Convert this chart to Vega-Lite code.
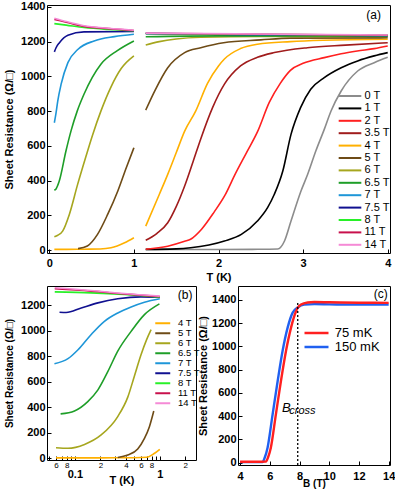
{
  "$schema": "https://vega.github.io/schema/vega-lite/v6.json",
  "autosize": {"type": "pad"},
  "padding": {"left": 3, "top": 0, "right": 0, "bottom": 0},
  "background": "white",
  "config": {
    "font": "Liberation Sans",
    "view": {"stroke": "#000", "strokeWidth": 1},
    "axis": {"domain": false, "grid": false, "tickColor": "#000", "tickSize": -4, "tickWidth": 1, "tickCount": 30, "labelColor": "#000", "labelFont": "Liberation Sans", "labelFontSize": 11, "labelFontWeight": "bold", "titleColor": "#000", "titleFont": "Liberation Sans", "titleFontSize": 11, "titleFontWeight": "bold", "labelPadding": 6, "titlePadding": 4, "labelFlush": false, "labelOverlap": false},
    "legend": {"labelFont": "Liberation Sans", "labelColor": "#000", "padding": 0, "titlePadding": 0}
  },
  "datasets": {
    "aLow": [
      {"B":"4 T","T":0.06,"R":4},{"B":"4 T","T":0.2,"R":4},{"B":"4 T","T":0.4,"R":5},{"B":"4 T","T":0.6,"R":6},{"B":"4 T","T":0.73,"R":13},{"B":"4 T","T":0.89,"R":42},{"B":"4 T","T":1.0,"R":71},
      {"B":"5 T","T":0.34,"R":8},{"B":"5 T","T":0.45,"R":23},{"B":"5 T","T":0.57,"R":90},{"B":"5 T","T":0.69,"R":205},{"B":"5 T","T":0.81,"R":340},{"B":"5 T","T":0.91,"R":474},{"B":"5 T","T":1.0,"R":589},
      {"B":"6 T","T":0.06,"R":77},{"B":"6 T","T":0.1,"R":85},{"B":"6 T","T":0.158,"R":109},{"B":"6 T","T":0.237,"R":205},{"B":"6 T","T":0.335,"R":378},{"B":"6 T","T":0.434,"R":540},{"B":"6 T","T":0.51,"R":660},{"B":"6 T","T":0.61,"R":800},{"B":"6 T","T":0.73,"R":940},{"B":"6 T","T":0.85,"R":1045},{"B":"6 T","T":1.0,"R":1118},
      {"B":"6.5 T","T":0.06,"R":344},{"B":"6.5 T","T":0.08,"R":352},{"B":"6.5 T","T":0.118,"R":397},{"B":"6.5 T","T":0.197,"R":570},{"B":"6.5 T","T":0.257,"R":686},{"B":"6.5 T","T":0.33,"R":800},{"B":"6.5 T","T":0.41,"R":897},{"B":"6.5 T","T":0.61,"R":1070},{"B":"6.5 T","T":0.8,"R":1147},{"B":"6.5 T","T":1.0,"R":1204},
      {"B":"7 T","T":0.06,"R":733},{"B":"7 T","T":0.08,"R":790},{"B":"7 T","T":0.1,"R":858},{"B":"7 T","T":0.14,"R":955},{"B":"7 T","T":0.22,"R":1079},{"B":"7 T","T":0.34,"R":1156},{"B":"7 T","T":0.53,"R":1204},{"B":"7 T","T":0.77,"R":1229},{"B":"7 T","T":1.0,"R":1243},
      {"B":"7.5 T","T":0.06,"R":1141},{"B":"7.5 T","T":0.08,"R":1165},{"B":"7.5 T","T":0.12,"R":1194},{"B":"7.5 T","T":0.22,"R":1237},{"B":"7.5 T","T":0.41,"R":1256},{"B":"7.5 T","T":1.0,"R":1258},
      {"B":"8 T","T":0.06,"R":1304},{"B":"8 T","T":0.2,"R":1295},{"B":"8 T","T":0.41,"R":1281},{"B":"8 T","T":0.7,"R":1270},{"B":"8 T","T":1.0,"R":1263},
      {"B":"11 T","T":0.06,"R":1328},{"B":"11 T","T":0.2,"R":1312},{"B":"11 T","T":0.41,"R":1288},{"B":"11 T","T":0.7,"R":1275},{"B":"11 T","T":1.0,"R":1264},
      {"B":"14 T","T":0.06,"R":1335},{"B":"14 T","T":0.2,"R":1316},{"B":"14 T","T":0.41,"R":1292},{"B":"14 T","T":0.7,"R":1277},{"B":"14 T","T":1.0,"R":1266}
    ],
    "aHigh": [
      {"B":"0 T","T":1.14,"R":3},{"B":"0 T","T":1.6,"R":3},{"B":"0 T","T":2.0,"R":3},{"B":"0 T","T":2.4,"R":4},{"B":"0 T","T":2.7,"R":6},{"B":"0 T","T":2.78,"R":52},{"B":"0 T","T":2.857,"R":167},{"B":"0 T","T":2.975,"R":340},{"B":"0 T","T":3.054,"R":436},{"B":"0 T","T":3.15,"R":570},{"B":"0 T","T":3.25,"R":695},{"B":"0 T","T":3.33,"R":801},{"B":"0 T","T":3.45,"R":916},{"B":"0 T","T":3.645,"R":1031},{"B":"0 T","T":3.84,"R":1079},{"B":"0 T","T":4.0,"R":1110},
      {"B":"1 T","T":1.14,"R":4},{"B":"1 T","T":1.5,"R":7},{"B":"1 T","T":1.67,"R":13},{"B":"1 T","T":2.07,"R":52},{"B":"1 T","T":2.27,"R":90},{"B":"1 T","T":2.46,"R":167},{"B":"1 T","T":2.58,"R":244},{"B":"1 T","T":2.66,"R":321},{"B":"1 T","T":2.76,"R":455},{"B":"1 T","T":2.857,"R":666},{"B":"1 T","T":2.97,"R":820},{"B":"1 T","T":3.09,"R":926},{"B":"1 T","T":3.25,"R":993},{"B":"1 T","T":3.45,"R":1050},{"B":"1 T","T":3.645,"R":1089},{"B":"1 T","T":3.84,"R":1118},{"B":"1 T","T":4.0,"R":1137},
      {"B":"2 T","T":1.14,"R":5},{"B":"2 T","T":1.4,"R":22},{"B":"2 T","T":1.6,"R":50},{"B":"2 T","T":1.67,"R":62},{"B":"2 T","T":1.8,"R":120},{"B":"2 T","T":1.95,"R":220},{"B":"2 T","T":2.07,"R":310},{"B":"2 T","T":2.2,"R":440},{"B":"2 T","T":2.33,"R":560},{"B":"2 T","T":2.46,"R":680},{"B":"2 T","T":2.6,"R":850},{"B":"2 T","T":2.73,"R":960},{"B":"2 T","T":2.85,"R":1035},{"B":"2 T","T":3.0,"R":1075},{"B":"2 T","T":3.25,"R":1108},{"B":"2 T","T":3.45,"R":1130},{"B":"2 T","T":3.64,"R":1146},{"B":"2 T","T":3.84,"R":1160},{"B":"2 T","T":4.0,"R":1175},
      {"B":"3.5 T","T":1.14,"R":56},{"B":"3.5 T","T":1.27,"R":95},{"B":"3.5 T","T":1.4,"R":157},{"B":"3.5 T","T":1.5,"R":250},{"B":"3.5 T","T":1.6,"R":369},{"B":"3.5 T","T":1.7,"R":510},{"B":"3.5 T","T":1.79,"R":640},{"B":"3.5 T","T":1.93,"R":820},{"B":"3.5 T","T":2.07,"R":955},{"B":"3.5 T","T":2.26,"R":1060},{"B":"3.5 T","T":2.46,"R":1110},{"B":"3.5 T","T":2.66,"R":1137},{"B":"3.5 T","T":3.05,"R":1165},{"B":"3.5 T","T":3.5,"R":1180},{"B":"3.5 T","T":4.0,"R":1194},
      {"B":"4 T","T":1.14,"R":138},{"B":"4 T","T":1.3,"R":320},{"B":"4 T","T":1.4,"R":436},{"B":"4 T","T":1.5,"R":560},{"B":"4 T","T":1.6,"R":685},{"B":"4 T","T":1.73,"R":800},{"B":"4 T","T":1.87,"R":960},{"B":"4 T","T":2.0,"R":1060},{"B":"4 T","T":2.07,"R":1100},{"B":"4 T","T":2.26,"R":1160},{"B":"4 T","T":2.46,"R":1185},{"B":"4 T","T":2.85,"R":1200},{"B":"4 T","T":3.24,"R":1208},{"B":"4 T","T":4.0,"R":1214},
      {"B":"5 T","T":1.14,"R":806},{"B":"5 T","T":1.25,"R":920},{"B":"5 T","T":1.4,"R":1050},{"B":"5 T","T":1.6,"R":1137},{"B":"5 T","T":1.79,"R":1165},{"B":"5 T","T":2.06,"R":1194},{"B":"5 T","T":2.5,"R":1210},{"B":"5 T","T":2.85,"R":1220},{"B":"5 T","T":4.0,"R":1222},
      {"B":"6 T","T":1.14,"R":1181},{"B":"6 T","T":1.3,"R":1200},{"B":"6 T","T":1.5,"R":1215},{"B":"6 T","T":1.79,"R":1225},{"B":"6 T","T":2.5,"R":1230},{"B":"6 T","T":4.0,"R":1230},
      {"B":"6.5 T","T":1.14,"R":1228},{"B":"6.5 T","T":2.0,"R":1233},{"B":"6.5 T","T":4.0,"R":1233},
      {"B":"7 T","T":1.14,"R":1248},{"B":"7 T","T":2.5,"R":1240},{"B":"7 T","T":4.0,"R":1235},
      {"B":"7.5 T","T":1.14,"R":1246},{"B":"7.5 T","T":4.0,"R":1234},
      {"B":"8 T","T":1.14,"R":1247},{"B":"8 T","T":4.0,"R":1236},
      {"B":"11 T","T":1.14,"R":1248},{"B":"11 T","T":4.0,"R":1237},
      {"B":"14 T","T":1.14,"R":1249},{"B":"14 T","T":4.0,"R":1238}
    ],
    "bLow": [
      {"B":"4 T","T":0.06,"R":5},{"B":"4 T","T":0.2,"R":5},{"B":"4 T","T":0.5,"R":6},{"B":"4 T","T":0.7,"R":9},{"B":"4 T","T":0.86,"R":39},{"B":"4 T","T":1.0,"R":72},
      {"B":"5 T","T":0.32,"R":8},{"B":"5 T","T":0.42,"R":27},{"B":"5 T","T":0.55,"R":74},{"B":"5 T","T":0.66,"R":157},{"B":"5 T","T":0.755,"R":249},{"B":"5 T","T":0.85,"R":372},
      {"B":"6 T","T":0.06,"R":84},{"B":"6 T","T":0.083,"R":80},{"B":"6 T","T":0.13,"R":110},{"B":"6 T","T":0.204,"R":184},{"B":"6 T","T":0.32,"R":328},{"B":"6 T","T":0.42,"R":480},{"B":"6 T","T":0.5,"R":640},{"B":"6 T","T":0.6,"R":810},{"B":"6 T","T":0.7,"R":930},{"B":"6 T","T":0.79,"R":1008},
      {"B":"6.5 T","T":0.068,"R":349},{"B":"6.5 T","T":0.099,"R":372},{"B":"6.5 T","T":0.142,"R":445},{"B":"6.5 T","T":0.187,"R":537},{"B":"6.5 T","T":0.245,"R":681},{"B":"6.5 T","T":0.32,"R":840},{"B":"6.5 T","T":0.46,"R":995},{"B":"6.5 T","T":0.66,"R":1126},{"B":"6.5 T","T":0.99,"R":1210},
      {"B":"7 T","T":0.0575,"R":741},{"B":"7 T","T":0.083,"R":781},{"B":"7 T","T":0.109,"R":851},{"B":"7 T","T":0.155,"R":969},{"B":"7 T","T":0.223,"R":1074},{"B":"7 T","T":0.32,"R":1139},{"B":"7 T","T":0.46,"R":1186},{"B":"7 T","T":0.66,"R":1223},{"B":"7 T","T":1.0,"R":1250},
      {"B":"7.5 T","T":0.066,"R":1145},{"B":"7.5 T","T":0.079,"R":1142},{"B":"7.5 T","T":0.119,"R":1178},{"B":"7.5 T","T":0.187,"R":1218},{"B":"7.5 T","T":0.32,"R":1250},{"B":"7.5 T","T":0.6,"R":1265},{"B":"7.5 T","T":1.0,"R":1262},
      {"B":"8 T","T":0.058,"R":1304},{"B":"8 T","T":0.155,"R":1296},{"B":"8 T","T":0.38,"R":1283},{"B":"8 T","T":1.0,"R":1262},
      {"B":"11 T","T":0.058,"R":1328},{"B":"11 T","T":0.155,"R":1310},{"B":"11 T","T":0.38,"R":1288},{"B":"11 T","T":1.0,"R":1267},
      {"B":"14 T","T":0.058,"R":1336},{"B":"14 T","T":0.155,"R":1315},{"B":"14 T","T":0.38,"R":1291},{"B":"14 T","T":1.0,"R":1271}
    ],
    "cSweep": [
      {"curve":"150 mK","B":4.0,"R":5},{"curve":"150 mK","B":5.0,"R":5},{"curve":"150 mK","B":5.51,"R":6},{"curve":"150 mK","B":5.65,"R":40},{"curve":"150 mK","B":5.85,"R":129},{"curve":"150 mK","B":6.19,"R":416},{"curve":"150 mK","B":6.53,"R":703},{"curve":"150 mK","B":6.86,"R":961},{"curve":"150 mK","B":7.2,"R":1162},{"curve":"150 mK","B":7.54,"R":1291},{"curve":"150 mK","B":7.88,"R":1335},{"curve":"150 mK","B":8.32,"R":1360},{"curve":"150 mK","B":9.0,"R":1364},{"curve":"150 mK","B":10.0,"R":1362},{"curve":"150 mK","B":12.0,"R":1360},{"curve":"150 mK","B":14.0,"R":1360},
      {"curve":"75 mK","B":4.0,"R":8},{"curve":"75 mK","B":5.0,"R":8},{"curve":"75 mK","B":5.74,"R":10},{"curve":"75 mK","B":5.88,"R":45},{"curve":"75 mK","B":6.07,"R":129},{"curve":"75 mK","B":6.41,"R":416},{"curve":"75 mK","B":6.75,"R":703},{"curve":"75 mK","B":7.09,"R":961},{"curve":"75 mK","B":7.43,"R":1162},{"curve":"75 mK","B":7.76,"R":1300},{"curve":"75 mK","B":7.88,"R":1333},{"curve":"75 mK","B":8.1,"R":1360},{"curve":"75 mK","B":8.55,"R":1378},{"curve":"75 mK","B":9.0,"R":1382},{"curve":"75 mK","B":10.0,"R":1380},{"curve":"75 mK","B":12.0,"R":1376},{"curve":"75 mK","B":14.0,"R":1375}
    ]
  },
  "spacing": 33,
  "bounds": "flush",
  "resolve": {"scale": {"color": "independent"}, "legend": {"color": "independent"}},
  "vconcat": [
    {
      "width": 343, "height": 248,
      "layer": [
        {
          "data": {"name": "aLow"},
          "mark": {"type": "line", "strokeWidth": 1.6, "interpolate": "monotone"},
          "encoding": {
            "x": {"field": "T", "type": "quantitative", "scale": {"domain": [-0.027, 4.027], "nice": false, "zero": false}, "axis": {"values": [0,1,2,3,4], "tickCount": 30, "title": "T (K)", "format": "d", "labelOverlap": false, "labelPadding": 8.5, "titlePadding": 3}},
            "y": {"field": "R", "type": "quantitative", "scale": {"domain": [-17, 1411], "nice": false, "zero": false}, "axis": {"values": [0,200,400,600,800,1000,1200,1400], "tickCount": 30, "title": "Sheet Resistance (Ω/□)", "format": "d", "labelOverlap": false, "labelPadding": 6, "titlePadding": 6}},
            "color": {"field": "B", "type": "nominal",
              "scale": {"domain": ["0 T","1 T","2 T","3.5 T","4 T","5 T","6 T","6.5 T","7 T","7.5 T","8 T","11 T","14 T"], "range": ["#8c8c8c","#000000","#ff2020","#a01c1c","#ffb000","#6e4b16","#a6a61e","#1e9e28","#1e96d8","#101090","#28f028","#c8104c","#f58ad6"]},
              "legend": {"orient": "none", "legendX": 297.5, "legendY": 85.5, "title": null, "symbolType": "M-4,0H4", "symbolSize": 32, "symbolStrokeWidth": 2, "labelFontSize": 11, "labelFontWeight": "normal", "rowPadding": 0.4, "labelOffset": 9}}
          }
        },
        {
          "data": {"name": "aHigh"},
          "mark": {"type": "line", "strokeWidth": 1.6, "interpolate": "monotone"},
          "encoding": {
            "x": {"field": "T", "type": "quantitative"},
            "y": {"field": "R", "type": "quantitative"},
            "color": {"field": "B", "type": "nominal"}
          }
        },
        {
          "data": {"values": [{"label": "(a)"}]},
          "mark": {"type": "text", "fontSize": 12, "font": "Liberation Sans", "color": "#000", "align": "center", "baseline": "middle"},
          "encoding": {"x": {"datum": 3.834, "type": "quantitative"}, "y": {"datum": 1354, "type": "quantitative"}, "text": {"field": "label"}}
        }
      ]
    },
    {
      "hconcat": [
        {
          "width": 149, "height": 174,
          "layer": [
            {
              "data": {"name": "bLow"},
              "mark": {"type": "line", "strokeWidth": 1.6, "interpolate": "monotone"},
              "encoding": {
                "x": {"field": "T", "type": "quantitative", "scale": {"type": "log", "domain": [0.047, 2.67], "nice": false},
                  "axis": {"values": [0.05,0.06,0.07,0.08,0.09,0.1,0.2,0.3,0.4,0.5,0.6,0.7,0.8,0.9,1,2], "tickCount": 30, "title": "T (K)", "labelOverlap": false,
                    "labelExpr": "datum.value == 0.1 ? '0.1' : datum.value == 1 ? '1' : (datum.value == 0.06 || datum.value == 0.6) ? '6' : (datum.value == 0.08 || datum.value == 0.8) ? '8' : (datum.value == 0.2 || datum.value == 2) ? '2' : datum.value == 0.4 ? '4' : ''",
                    "labelFontSize": {"condition": {"test": "datum.value == 0.1 || datum.value == 1", "value": 11}, "value": 8},
                    "labelFontWeight": {"condition": {"test": "datum.value == 0.1 || datum.value == 1", "value": "bold"}, "value": "normal"},
                    "labelPadding": {"condition": {"test": "datum.value == 0.1 || datum.value == 1", "value": 12}, "value": 5},
                    "titlePadding": -5}},
                "y": {"field": "R", "type": "quantitative", "scale": {"domain": [-12, 1350], "nice": false, "zero": false}, "axis": {"values": [0,200,400,600,800,1000,1200], "tickCount": 30, "title": "Sheet Resistance (Ω/□)", "format": "d", "labelOverlap": false, "labelPadding": 6, "titlePadding": 6, "titleFontSize": 10}},
                "color": {"field": "B", "type": "nominal",
                  "scale": {"domain": ["4 T","5 T","6 T","6.5 T","7 T","7.5 T","8 T","11 T","14 T"], "range": ["#ffb000","#6e4b16","#a6a61e","#1e9e28","#1e96d8","#101090","#28f028","#c8104c","#f58ad6"]},
                  "legend": {"orient": "none", "legendX": 111, "legendY": 32.5, "title": null, "symbolType": "M-4,0H4", "symbolSize": 14, "symbolStrokeWidth": 2, "labelFontSize": 9.5, "labelFontWeight": "normal", "rowPadding": -1, "labelOffset": 10.5}}
              }
            },
            {
              "data": {"values": [{"label": "(b)"}]},
              "mark": {"type": "text", "fontSize": 12, "font": "Liberation Sans", "color": "#000", "align": "center", "baseline": "middle"},
              "encoding": {"x": {"datum": 1.985, "type": "quantitative"}, "y": {"datum": 1278, "type": "quantitative"}, "text": {"field": "label"}}
            }
          ]
        },
        {
          "width": 152, "height": 179,
          "layer": [
            {
              "data": {"name": "cSweep"},
              "mark": {"type": "line", "strokeWidth": 2.4, "interpolate": "monotone"},
              "encoding": {
                "x": {"field": "B", "type": "quantitative", "scale": {"domain": [3.86, 14.09], "nice": false, "zero": false}, "axis": {"values": [4,6,8,10,12,14], "tickCount": 30, "title": "B (T)", "format": "d", "labelOverlap": false, "labelPadding": 9.5, "titlePadding": -3.5, "titleFontSize": 10}},
                "y": {"field": "R", "type": "quantitative", "scale": {"domain": [-20, 1520], "nice": false, "zero": false}, "axis": {"values": [0,200,400,600,800,1000,1200,1400], "tickCount": 30, "title": "Sheet Resistance (Ω/□)", "format": "d", "labelOverlap": false, "labelPadding": 6, "titlePadding": 3}},
                "color": {"field": "curve", "type": "nominal",
                  "scale": {"domain": ["75 mK","150 mK"], "range": ["#ff2020","#2060f0"]},
                  "legend": {"orient": "none", "legendX": 72, "legendY": 40.5, "title": null, "symbolType": "M-4,0H4", "symbolSize": 36, "symbolStrokeWidth": 2.5, "labelFontSize": 13, "labelFontWeight": "normal", "rowPadding": 0, "labelOffset": 11.8}}
              }
            },
            {
              "data": {"values": [{"label": "Bcross"}]},
              "mark": {"type": "rule", "strokeDash": [2, 2], "strokeWidth": 1.3, "color": "#000"},
              "encoding": {"x": {"datum": 7.88, "type": "quantitative"}, "y": {"datum": -20, "type": "quantitative"}, "y2": {"datum": 1385}}
            },
            {
              "data": {"values": [{"label": "B"}]},
              "mark": {"type": "text", "fontSize": 13, "fontStyle": "italic", "font": "Liberation Sans", "color": "#000", "align": "center", "baseline": "middle"},
              "encoding": {"x": {"datum": 7.12, "type": "quantitative"}, "y": {"datum": 471, "type": "quantitative"}, "text": {"field": "label"}}
            },
            {
              "data": {"values": [{"label": "cross"}]},
              "mark": {"type": "text", "fontSize": 11, "fontStyle": "italic", "font": "Liberation Sans", "color": "#000", "align": "left", "baseline": "middle"},
              "encoding": {"x": {"datum": 7.31, "type": "quantitative"}, "y": {"datum": 445, "type": "quantitative"}, "text": {"field": "label"}}
            },
            {
              "data": {"values": [{"label": "(c)"}]},
              "mark": {"type": "text", "fontSize": 12, "font": "Liberation Sans", "color": "#000", "align": "center", "baseline": "middle"},
              "encoding": {"x": {"datum": 13.46, "type": "quantitative"}, "y": {"datum": 1454, "type": "quantitative"}, "text": {"field": "label"}}
            }
          ]
        }
      ],
      "spacing": 42,
      "bounds": "flush",
      "resolve": {"scale": {"color": "independent"}, "legend": {"color": "independent"}}
    }
  ]
}
